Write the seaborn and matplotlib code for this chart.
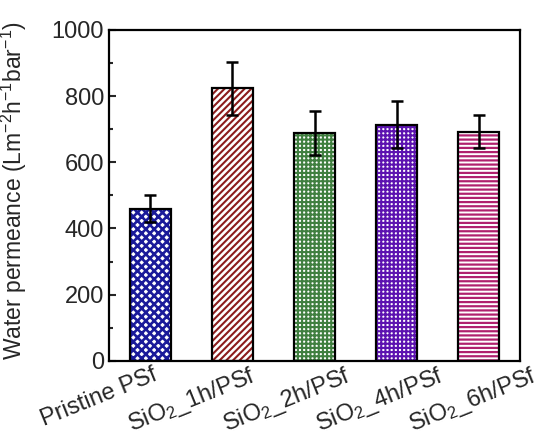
import matplotlib
matplotlib.use("Agg")
import matplotlib.pyplot as plt
import matplotlib.transforms as mtransforms
from matplotlib.patches import Rectangle
from matplotlib.ticker import MultipleLocator
import seaborn as sns
import pandas as pd

# Samples, measured permeance and standard deviation
samples = ["Pristine PSf", "SiO$_2$_1h/PSf", "SiO$_2$_2h/PSf",
           "SiO$_2$_4h/PSf", "SiO$_2$_6h/PSf"]
permeance = [460, 823, 688, 714, 693]
std_dev = [40, 80, 66, 70, 50]

colors = ["#1a1a9a", "#8c1c1c", "#3f7f3f", "#5c12b0", "#b0206e"]
hatches = ["xxxx", "/////", "++++", "++++", "----"]
hatch_widths = [1.9, 1.5, 1.5, 1.5, 1.6]

sns.set_theme(style="white")
plt.rcParams["font.family"] = ["Liberation Sans", "DejaVu Sans"]
plt.rcParams["mathtext.fontset"] = "custom"
plt.rcParams["mathtext.rm"] = "Liberation Sans"
plt.rcParams["mathtext.it"] = "Liberation Sans:italic"
plt.rcParams["mathtext.bf"] = "Liberation Sans:bold"
plt.rcParams["hatch.linewidth"] = 1.5

df = pd.DataFrame({"sample": samples, "permeance": permeance, "std": std_dev})

fig = plt.figure(figsize=(5.4, 4.4), dpi=100)
ax = fig.add_axes([0.202, 0.18, 0.761, 0.752])

sns.barplot(data=df, x="sample", y="permeance", hue="sample",
            palette=colors, legend=False, errorbar=None, width=0.5,
            ax=ax)

# hatched fills in each sample's colour, with a black outline on top
for patch, col, h, hw in zip(ax.patches, colors, hatches, hatch_widths):
    patch.set_facecolor("white")
    patch.set_edgecolor(col)
    patch.set_hatch(h)
    patch.set_linewidth(0)
    if hasattr(patch, "set_hatch_linewidth"):
        patch.set_hatch_linewidth(hw)
    outline = Rectangle(patch.get_xy(), patch.get_width(), patch.get_height(),
                        fill=False, edgecolor="black", linewidth=1.6, zorder=3)
    ax.add_patch(outline)

ax.errorbar(x=range(len(samples)), y=df["permeance"], yerr=df["std"],
            fmt="none", ecolor="black", elinewidth=1.8, capsize=4,
            capthick=1.8, zorder=4)

ax.set_xlim(-0.5, 4.5)
ax.set_ylim(0, 1000)
ax.yaxis.set_major_locator(MultipleLocator(200))
ax.yaxis.set_minor_locator(MultipleLocator(100))
ax.tick_params(axis="y", which="major", direction="in", length=5, width=1.5,
               labelsize=17, left=True)
ax.tick_params(axis="y", which="minor", direction="in", length=3, width=1.5,
               left=True)
ax.tick_params(axis="x", length=0, labelsize=17, pad=2)

for side in ["left", "right", "top", "bottom"]:
    ax.spines[side].set_visible(True)
    ax.spines[side].set_linewidth(1.6)
    ax.spines[side].set_color("black")

ax.set_xlabel("")
ax.set_ylabel("Water permeance (Lm$^{-2}$h$^{-1}$bar$^{-1}$)", fontsize=16.5)
ax.yaxis.set_label_coords(-0.195, 0.515)

shifts = [-51, -40, -28, -17, -6]
for lbl, dx in zip(ax.get_xticklabels(), shifts):
    lbl.set_rotation(22)
    lbl.set_ha("center")
    lbl.set_transform(lbl.get_transform() +
                      mtransforms.ScaledTranslation(dx / 100, 0,
                                                    fig.dpi_scale_trans))

fig.savefig("out.png", dpi=100)
